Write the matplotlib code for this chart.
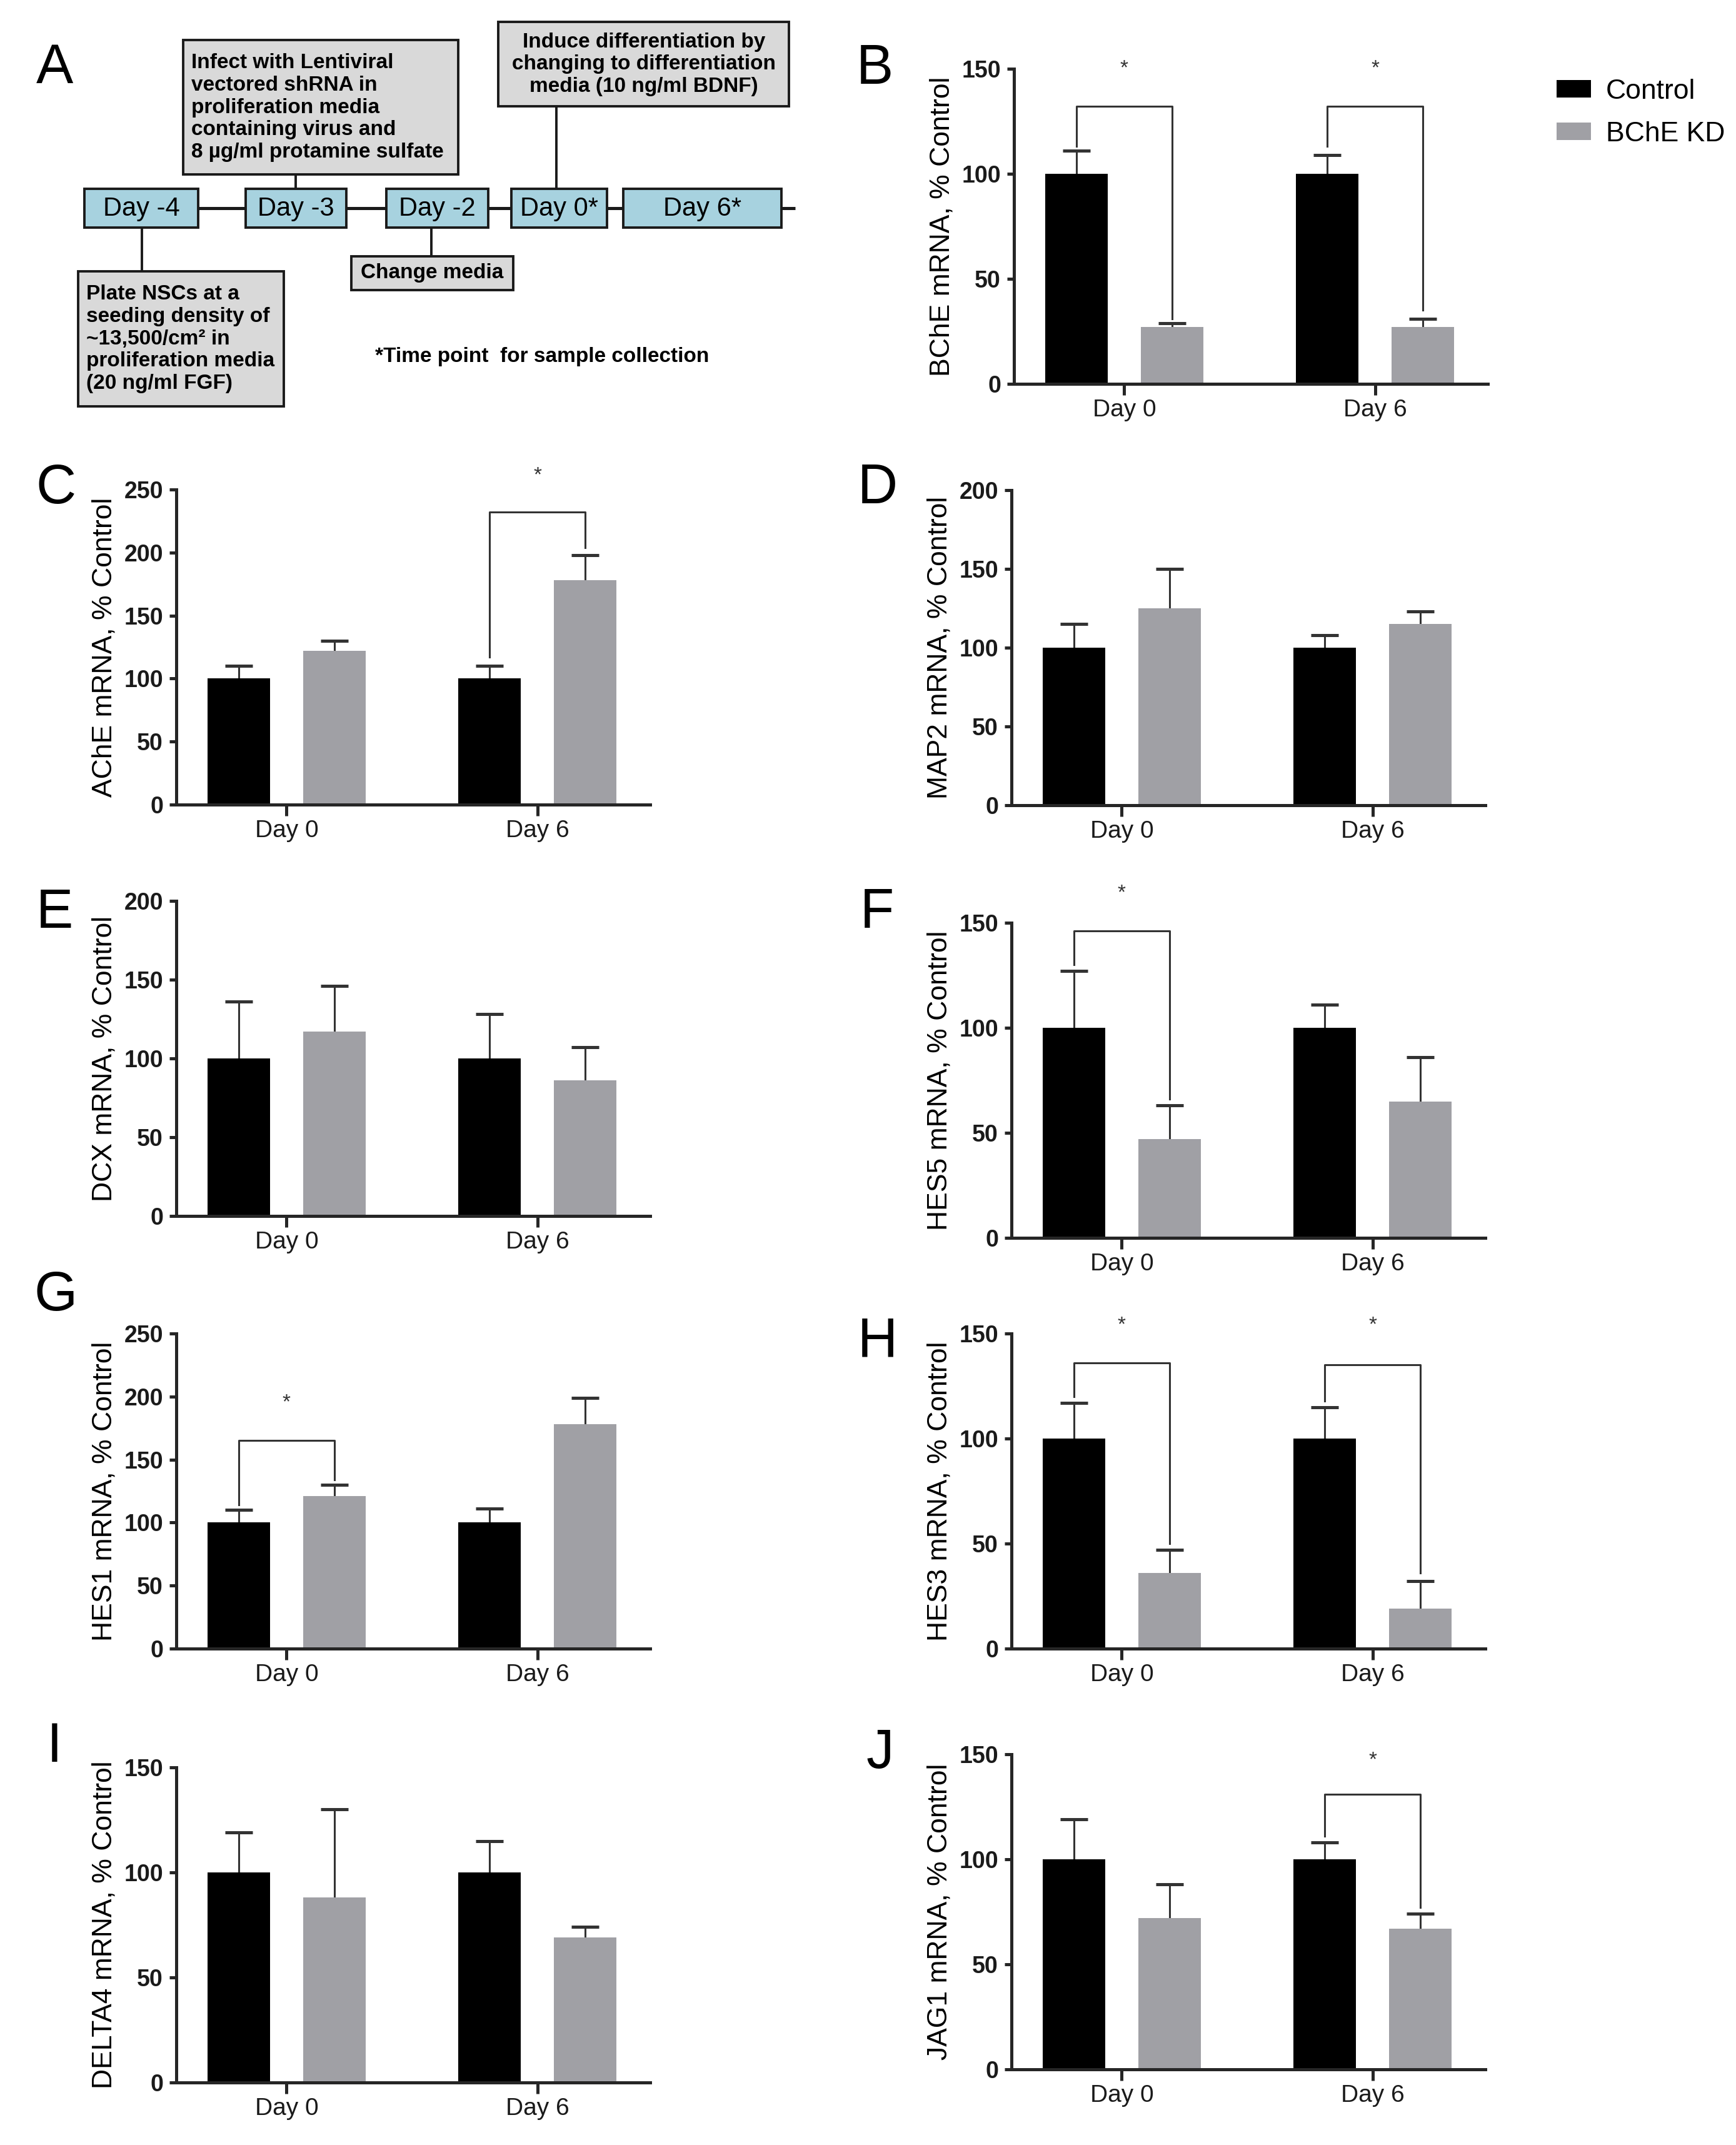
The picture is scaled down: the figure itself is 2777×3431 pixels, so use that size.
import numpy as np
import matplotlib
matplotlib.use("Agg")
import matplotlib.pyplot as plt
from matplotlib.patches import Rectangle

plt.rcParams['font.family'] = ['Liberation Sans', 'DejaVu Sans']

# canvas size in pixels
W, H = 2777, 3431
DPI = 200

# ---- data ----
groups = ["Day 0", "Day 6"]
series = ["Control", "BChE KD"]

bche_ctrl, bche_ctrl_err = [100, 100], [11, 9]
bche_kd, bche_kd_err = [27, 27], [2, 4]

ache_ctrl, ache_ctrl_err = [100, 100], [10, 10]
ache_kd, ache_kd_err = [122, 178], [8, 20]

map2_ctrl, map2_ctrl_err = [100, 100], [15, 8]
map2_kd, map2_kd_err = [125, 115], [25, 8]

dcx_ctrl, dcx_ctrl_err = [100, 100], [36, 28]
dcx_kd, dcx_kd_err = [117, 86], [29, 21]

hes5_ctrl, hes5_ctrl_err = [100, 100], [27, 11]
hes5_kd, hes5_kd_err = [47, 65], [16, 21]

hes1_ctrl, hes1_ctrl_err = [100, 100], [10, 11]
hes1_kd, hes1_kd_err = [121, 178], [9, 21]

hes3_ctrl, hes3_ctrl_err = [100, 100], [17, 15]
hes3_kd, hes3_kd_err = [36, 19], [11, 13]

delta4_ctrl, delta4_ctrl_err = [100, 100], [19, 15]
delta4_kd, delta4_kd_err = [88, 69], [42, 5]

jag1_ctrl, jag1_ctrl_err = [100, 100], [19, 8]
jag1_kd, jag1_kd_err = [72, 67], [16, 7]

# significance brackets: (group, bracket y, left leg end, right leg end, star y)
bche_sig = [(0, 132, 113, 31, 150), (1, 132, 113, 35, 150)]
ache_sig = [(1, 232, 117, 204, 261)]
hes5_sig = [(0, 146, 130, 66, 164)]
hes1_sig = [(0, 165, 114, 134, 195)]
hes3_sig = [(0, 136, 120, 50, 154), (1, 135, 118, 36, 154)]
jag1_sig = [(1, 131, 111, 77, 147)]

# timeline schematic (panel A)
day_labels = ["Day -4", "Day -3", "Day -2", "Day 0*", "Day 6*"]
infect_text = ("Infect with Lentiviral\nvectored shRNA in\nproliferation media\n"
               "containing virus and\n8 \u00b5g/ml protamine sulfate")
induce_text = "Induce differentiation by\nchanging to differentiation\nmedia (10 ng/ml BDNF)"
plate_text = ("Plate NSCs at a\nseeding density of\n~13,500/cm\u00b2 in\n"
              "proliferation media\n(20 ng/ml FGF)")
change_text = "Change media"
note_text = "*Time point  for sample collection"

GRAY = '#a0a0a5'
LINE = '#262626'

fig = plt.figure(figsize=(W / DPI, H / DPI), dpi=DPI)
fig.patch.set_facecolor('white')


def px_axes(left, bottom, width, height):
    return fig.add_axes([left / W, 1 - bottom / H, width / W, height / H])


def bar_panel(left, bottom, ylabel, ymax, ctrl, ctrl_err, kd, kd_err, sig=()):
    ax = px_axes(left, bottom, 758, 504)
    x = np.arange(len(groups))
    off, bw = 0.19, 0.25
    b1 = ax.bar(x - off, ctrl, bw, color='black', zorder=2, label=series[0])
    b2 = ax.bar(x + off, kd, bw, color=GRAY, zorder=2, label=series[1])
    for xs, vals, errs in [(x - off, ctrl, ctrl_err), (x + off, kd, kd_err)]:
        eb = ax.errorbar(xs, vals, yerr=[np.zeros(len(errs)), errs], fmt='none',
                         ecolor='#333333', elinewidth=1.1, capsize=8, capthick=1.8,
                         zorder=1)
        eb[1][0].set_visible(False)
    for g, yb, yl, yr, ys in sig:
        xl, xr = g - off, g + off
        ax.plot([xl, xl, xr, xr], [yl, yb, yb, yr], color='#333333', lw=1.1,
                clip_on=False, zorder=3)
        ax.text(g, ys, '*', ha='center', va='center', fontsize=12, color='#333333')
    ax.set_xlim(-0.44, 1.45)
    ax.set_ylim(0, ymax)
    ax.set_yticks(np.arange(0, ymax + 1, 50))
    ax.set_yticklabels([str(v) for v in np.arange(0, ymax + 1, 50)], fontweight='bold')
    ax.set_xticks(x)
    ax.set_xticklabels(groups)
    for s in ['top', 'right']:
        ax.spines[s].set_visible(False)
    for s in ['left', 'bottom']:
        ax.spines[s].set_linewidth(1.8)
        ax.spines[s].set_color(LINE)
    ax.spines['left'].set_bounds(0, ymax)
    ax.tick_params(axis='y', length=4, width=1.8, pad=3.6, labelsize=13.5, colors=LINE)
    ax.tick_params(axis='x', length=6.5, width=1.8, pad=2, labelsize=14, colors=LINE)
    ax.tick_params(labelcolor='#1a1a1a')
    ax.set_ylabel(ylabel, fontsize=16)
    ax.yaxis.set_label_coords(-0.125, 0.5)
    return ax, b1, b2


def letter(ch, x, y):
    fig.text(x / W, 1 - y / H, ch, fontsize=32, ha='left', va='baseline')


# ---- panel A: schematic ----
axA = px_axes(0, 680, 1300, 680)
axA.set_xlim(0, 1300)
axA.set_ylim(680, 0)
axA.axis('off')

axA.plot([133, 1272], [333, 333], color='#1a1a1a', lw=1.8, solid_capstyle='butt', zorder=1)
day_x = [(135, 317), (393, 554), (618, 781), (818, 971), (997, 1250)]
for lab, (x0, x1) in zip(day_labels, day_x):
    axA.add_patch(Rectangle((x0, 302), x1 - x0, 62, facecolor='#a7d2df',
                            edgecolor='#1a1a1a', lw=1.4, zorder=2))
    axA.text((x0 + x1) / 2, 334, lab, ha='center', va='center', fontsize=15, zorder=3)

for (x0, y0, x1, y1) in [(293, 64, 733, 279), (797, 35, 1262, 170),
                         (125, 434, 454, 650), (562, 410, 821, 464)]:
    axA.add_patch(Rectangle((x0, y0), x1 - x0, y1 - y0, facecolor='#d9d9d9',
                            edgecolor='#1a1a1a', lw=1.4, zorder=2))

for xc, ya, yb in [(473, 279, 302), (890, 170, 302), (227, 364, 434), (690, 364, 410)]:
    axA.plot([xc, xc], [ya, yb], color='#1a1a1a', lw=1.4, zorder=1)

axA.text(306, 172, infect_text, ha='left', va='center', fontsize=12,
         fontweight='bold', linespacing=1.2, zorder=3)
axA.text(1030, 103, induce_text, ha='center', va='center', fontsize=12,
         fontweight='bold', linespacing=1.2, zorder=3)
axA.text(138, 542, plate_text, ha='left', va='center', fontsize=12,
         fontweight='bold', linespacing=1.2, zorder=3)
axA.text(691, 437, change_text, ha='center', va='center', fontsize=12,
         fontweight='bold', zorder=3)
axA.text(600, 571, note_text, ha='left', va='center', fontsize=12,
         fontweight='bold', zorder=3)

# ---- bar panels ----
axB, hb1, hb2 = bar_panel(1622, 614, "BChE mRNA, % Control", 150,
                          bche_ctrl, bche_ctrl_err, bche_kd, bche_kd_err, bche_sig)
bar_panel(282, 1287, "AChE mRNA, % Control", 250,
          ache_ctrl, ache_ctrl_err, ache_kd, ache_kd_err, ache_sig)
bar_panel(1618, 1288, "MAP2 mRNA, % Control", 200,
          map2_ctrl, map2_ctrl_err, map2_kd, map2_kd_err)
bar_panel(282, 1945, "DCX mRNA, % Control", 200,
          dcx_ctrl, dcx_ctrl_err, dcx_kd, dcx_kd_err)
bar_panel(1618, 1980, "HES5 mRNA, % Control", 150,
          hes5_ctrl, hes5_ctrl_err, hes5_kd, hes5_kd_err, hes5_sig)
bar_panel(282, 2637, "HES1 mRNA, % Control", 250,
          hes1_ctrl, hes1_ctrl_err, hes1_kd, hes1_kd_err, hes1_sig)
bar_panel(1618, 2637, "HES3 mRNA, % Control", 150,
          hes3_ctrl, hes3_ctrl_err, hes3_kd, hes3_kd_err, hes3_sig)
bar_panel(282, 3331, "DELTA4 mRNA, % Control", 150,
          delta4_ctrl, delta4_ctrl_err, delta4_kd, delta4_kd_err)
bar_panel(1618, 3310, "JAG1 mRNA, % Control", 150,
          jag1_ctrl, jag1_ctrl_err, jag1_kd, jag1_kd_err, jag1_sig)

fig.legend(handles=[hb1, hb2], labels=series, loc='upper left',
           bbox_to_anchor=(2490 / W, 1 - 126 / H), frameon=False, fontsize=16,
           handlelength=1.23, handleheight=0.6, handletextpad=0.55,
           labelspacing=0.6, borderpad=0, borderaxespad=0)

for ch, x, y in [("A", 58, 133), ("B", 1370, 134), ("C", 58, 805), ("D", 1372, 805),
                 ("E", 58, 1484), ("F", 1376, 1484), ("G", 55, 2096), ("H", 1372, 2169),
                 ("I", 75, 2818), ("J", 1386, 2828)]:
    letter(ch, x, y)

fig.savefig("out.png", dpi=DPI)
